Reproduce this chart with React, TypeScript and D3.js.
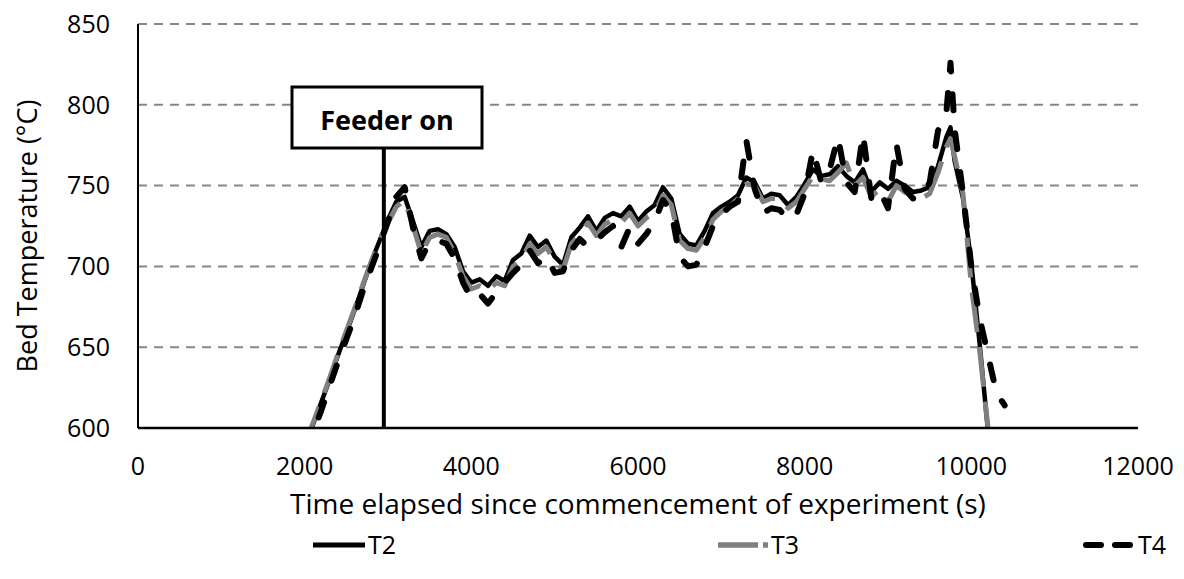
import React from "react";
import * as d3 from "d3";

const times = [
  2000, 2100, 2200, 2300, 2400, 2500, 2600, 2700, 2800, 2900,
  3000, 3100, 3200, 3300, 3400, 3500, 3600, 3700, 3800, 3900,
  4000, 4100, 4200, 4300, 4400, 4500, 4600, 4700, 4800, 4900,
  5000, 5100, 5200, 5300, 5400, 5500, 5600, 5700, 5800, 5900,
  6000, 6100, 6200, 6300, 6400, 6500, 6600, 6700, 6800, 6900,
  7000, 7100, 7200, 7300, 7400, 7500, 7600, 7700, 7800, 7900,
  8000, 8100, 8200, 8300, 8400, 8500, 8600, 8700, 8800, 8900,
  9000, 9100, 9200, 9300, 9400, 9500, 9600, 9700, 9750, 9800,
  9900, 10000, 10100, 10200, 10300, 10400,
];

const t2 = [
  588, 602, 616, 630, 645, 659, 673, 688, 703, 716,
  729, 740, 743, 728, 712, 722, 723, 720, 712, 697,
  690, 692, 688, 694, 691, 704, 708, 719, 712, 716,
  706, 701, 718, 724, 731, 722, 730, 733, 731, 737,
  728, 734, 738, 749, 742, 720, 714, 713, 722, 733,
  737, 740, 744, 755, 752, 742, 745, 744, 738, 743,
  751, 760, 756, 757, 762, 756, 752, 760, 746, 752,
  748, 753, 750, 746, 747, 749, 762, 780, 786, 765,
  742, 702, 652, 598, 555, null,
];

const t3 = [
  590, 603, 617, 631, 646, 660, 674, 689, 703, 716,
  727, 737, 741, 725, 708, 718, 720, 718, 708, 694,
  686, 688, 685, 690, 688, 700, 704, 714, 708, 712,
  703, 698, 714, 720, 727, 719, 726, 729, 727, 733,
  725, 730, 733, 744, 738, 716, 711, 710, 718, 729,
  734, 737, 742, 751, 750, 740, 742, 742, 736, 740,
  748, 756, 754, 753, 758, 764, 750, 755, 743, 748,
  740, 750, 746, 744, 742, 745, 758, 774, 779, 768,
  745, 688, 648, 600, 560, null,
];

const t4 = [
  584, 597, 611, 626, 641, 655, 669, 685, 699, 713,
  728, 743, 749, 724, 705, 715, 716, 714, 705, 690,
  680, 683, 677, 684, 690, 696, 701, 710, 702, 706,
  696, 697, 710, 717, 712, 716, 721, 725, 712, 724,
  714, 720, 728, 741, 734, 706, 700, 701, 712, 725,
  732, 737, 740, 778, 748, 733, 736, 735, 729, 732,
  745, 772, 752, 760, 780, 752, 746, 782, 742, 747,
  736, 776, 748, 742, 743, 752, 784, 795, 826, 785,
  745, 700, 668, 645, 622, 614,
];

const xTicks = [0, 2000, 4000, 6000, 8000, 10000, 12000];
const yTicks = [600, 650, 700, 750, 800, 850];
const seriesNames = ["T2", "T3", "T4"];
const feederTime = 2950;
const feederLabel = "Feeder on";
const xTitle = "Time elapsed since commencement of experiment (s)";
const yTitle = "Bed Temperature (°C)";

const FONT = "'Open Sans', sans-serif";

export default function App() {
  const W = 1184;
  const H = 579;
  const x = d3.scaleLinear().domain([0, 12000]).range([138, 1138]);
  const y = d3.scaleLinear().domain([600, 850]).range([428, 24]);

  const styles = [
    { stroke: "#000000", width: 4.5, dash: "none", cap: "butt" },
    { stroke: "#808080", width: 5, dash: "40 15", cap: "butt" },
    { stroke: "#000000", width: 6, dash: "16 23", cap: "round" },
  ];
  const values = [t2, t3, t4];

  const makePath = (vals: (number | null)[]) => {
    const pts = times
      .map((t, i) => [t, vals[i]] as [number, number | null])
      .filter((p) => p[1] !== null) as [number, number][];
    return d3
      .line<[number, number]>()
      .x((d) => x(d[0]))
      .y((d) => y(d[1]))(pts) as string;
  };

  const legendY = 545;
  const legend = [
    { x1: 313, x2: 365, dash: "none", cap: "butt", tx: 368 },
    { x1: 718, x2: 768, dash: "40 5", cap: "butt", tx: 771 },
    { x1: 1086, x2: 1130, dash: "15 14", cap: "round", tx: 1138 },
  ];

  return (
    <svg
      width={W}
      height={H}
      style={{ position: "absolute", left: 0, top: 0, background: "#fff" }}
      fontFamily={FONT}
    >
      <defs>
        <clipPath id="plotClip">
          <rect x={x(0)} y={y(850) - 5} width={x(12000) - x(0)} height={y(600) - y(850) + 5} />
        </clipPath>
      </defs>
      <rect x={0} y={0} width={W} height={H} fill="#fff" />
      {yTicks.filter((v) => v !== 600).map((v) => (
        <line
          key={"g" + v}
          x1={x(0)}
          x2={x(12000)}
          y1={y(v)}
          y2={y(v)}
          stroke="#878787"
          strokeWidth={2}
          strokeDasharray="9 7"
        />
      ))}
      {yTicks.map((v) => (
        <text
          key={"yl" + v}
          x={110}
          y={y(v)}
          dy="0.35em"
          textAnchor="end"
          fontSize={25}
          fill="#000"
        >
          {v}
        </text>
      ))}
      {xTicks.map((t) => (
        <text
          key={"xl" + t}
          x={x(t)}
          y={475}
          textAnchor="middle"
          fontSize={25}
          fill="#000"
        >
          {t}
        </text>
      ))}
      <g clipPath="url(#plotClip)">
        {values.map((vals, i) => (
          <path
            key={"s" + i}
            d={makePath(vals)}
            fill="none"
            stroke={styles[i].stroke}
            strokeWidth={styles[i].width}
            strokeDasharray={styles[i].dash}
            strokeLinecap={styles[i].cap as any}
            strokeLinejoin="round"
          />
        ))}
      </g>
      <line x1={x(0)} x2={x(0)} y1={y(850)} y2={y(600)} stroke="#000" strokeWidth={2} />
      <line x1={x(0)} x2={x(12000)} y1={y(600)} y2={y(600)} stroke="#000" strokeWidth={2.5} />
      <line
        x1={x(feederTime)}
        x2={x(feederTime)}
        y1={y(600)}
        y2={146}
        stroke="#000"
        strokeWidth={4}
      />
      <rect x={292} y={87} width={190} height={61} fill="#fff" stroke="#000" strokeWidth={3} />
      <text
        x={387}
        y={130}
        textAnchor="middle"
        fontSize={27}
        fontWeight="bold"
        fill="#000"
      >
        {feederLabel}
      </text>
      <text x={638} y={514} textAnchor="middle" fontSize={28} fill="#000">
        {xTitle}
      </text>
      <text
        transform={`translate(37, ${(y(600) + y(850)) / 2 + 10}) rotate(-90)`}
        textAnchor="middle"
        fontSize={27}
        fill="#000"
      >
        {yTitle}
      </text>
      {seriesNames.map((name, i) => (
        <g key={"lg" + i}>
          <line
            x1={legend[i].x1}
            x2={legend[i].x2}
            y1={legendY}
            y2={legendY}
            stroke={styles[i].stroke}
            strokeWidth={i === 2 ? 6 : styles[i].width + 0.5}
            strokeDasharray={legend[i].dash}
            strokeLinecap={legend[i].cap as any}
          />
          <text x={legend[i].tx} y={legendY} dy="0.35em" fontSize={25} fill="#000">
            {name}
          </text>
        </g>
      ))}
    </svg>
  );
}
